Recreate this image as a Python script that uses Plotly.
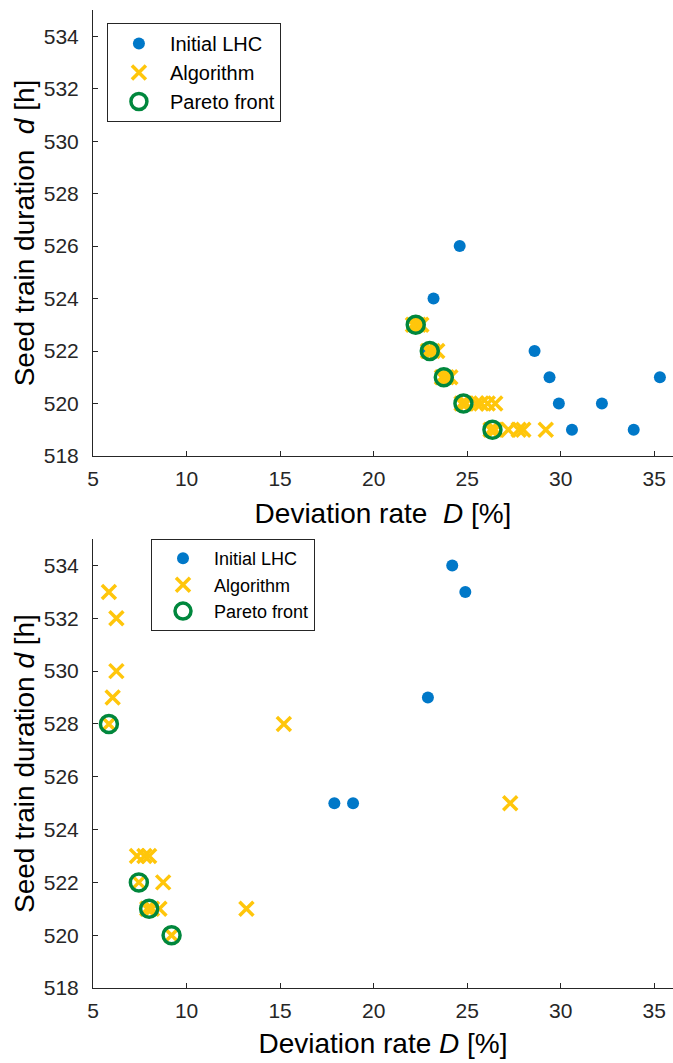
import plotly.graph_objects as go

# ---- upper panel: seed train duration vs deviation rate ----
lhc_D_top = [24.6, 23.2, 28.6, 29.4, 35.3, 29.9, 32.2, 30.6, 33.9, 22.8]
lhc_d_top = [526, 524, 522, 521, 521, 520, 520, 519, 519, 522]

alg_D_top = [22.1, 22.25, 22.4, 22.55,
             22.9, 23.0, 23.15, 23.4,
             23.65, 23.75, 23.9, 24.1,
             24.7, 24.8, 24.95, 25.5, 25.75, 26.1, 26.5,
             26.25, 26.35, 26.5, 27.2, 27.75, 28.0, 29.2]
alg_d_top = [523, 523, 523, 523,
             522, 522, 522, 522,
             521, 521, 521, 521,
             520, 520, 520, 520, 520, 520, 520,
             519, 519, 519, 519, 519, 519, 519]

par_D_top = [22.25, 23.0, 23.75, 24.8, 26.35]
par_d_top = [523, 522, 521, 520, 519]

# ---- lower panel ----
lhc_D_bot = [24.2, 24.9, 22.9, 17.9, 18.9]
lhc_d_bot = [534, 533, 529, 525, 525]

alg_D_bot = [5.85, 6.25, 6.25, 6.05, 5.85, 15.2, 27.3,
             7.35, 7.75, 8.0, 7.45, 8.75,
             7.9, 8.0, 8.15, 8.55, 13.2, 9.2]
alg_d_bot = [533, 532, 530, 529, 528, 528, 525,
             523, 523, 523, 522, 522,
             521, 521, 521, 521, 521, 520]

par_D_bot = [5.85, 7.45, 8.0, 9.2]
par_d_bot = [528, 522, 521, 520]

x_ticks = [5, 10, 15, 20, 25, 30, 35]
y_ticks = [518, 520, 522, 524, 526, 528, 530, 532, 534]

BLUE = "#0078C8"
YELLOW = "#FFC60B"
GREEN = "#00873D"
AXC = "#262626"
FONT = "Liberation Sans, Arial, sans-serif"

fig = go.Figure()


def add_panel(xa, ya, legend, lD, ld, aD, ad, pD, pd):
    fig.add_trace(go.Scatter(
        x=lD, y=ld, mode="markers", name="Initial LHC",
        marker=dict(color=BLUE, size=12, symbol="circle"),
        xaxis=xa, yaxis=ya, legend=legend))
    fig.add_trace(go.Scatter(
        x=aD, y=ad, mode="markers", name="Algorithm",
        marker=dict(color=YELLOW, size=14, symbol="x-thin",
                    line=dict(color=YELLOW, width=3.5)),
        xaxis=xa, yaxis=ya, legend=legend))
    fig.add_trace(go.Scatter(
        x=pD, y=pd, mode="markers", name="Pareto front",
        marker=dict(color=GREEN, size=17, symbol="circle-open",
                    line=dict(color=GREEN, width=3.5)),
        xaxis=xa, yaxis=ya, legend=legend))


add_panel("x", "y", "legend", lhc_D_top, lhc_d_top, alg_D_top, alg_d_top,
          par_D_top, par_d_top)
add_panel("x2", "y2", "legend2", lhc_D_bot, lhc_d_bot, alg_D_bot, alg_d_bot,
          par_D_bot, par_d_bot)

axis_common = dict(
    showline=True, linecolor=AXC, linewidth=1, mirror=False,
    ticks="inside", ticklen=5, tickcolor=AXC, tickwidth=1,
    showgrid=False, zeroline=False,
    tickfont=dict(family=FONT, size=21, color=AXC),
)

xaxis_cfg = dict(axis_common, range=[5, 36], tickvals=x_ticks,
                 ticklabelstandoff=4)
yaxis_cfg = dict(axis_common, range=[518, 535], tickvals=y_ticks,
                 ticklabelstandoff=9)

title_font = dict(family=FONT, size=28, color="#000000")

fig.update_layout(
    width=673, height=1063,
    margin=dict(l=93, r=0, t=10, b=75),
    paper_bgcolor="white", plot_bgcolor="white",
    xaxis=dict(xaxis_cfg, domain=[0, 1], anchor="y",
               title=dict(text="Deviation rate  <i>D</i> [%]",
                          font=title_font, standoff=14)),
    yaxis=dict(yaxis_cfg, domain=[0.544, 1], anchor="x",
               title=dict(text="Seed train duration  <i>d</i> [h]",
                          font=title_font, standoff=0)),
    xaxis2=dict(xaxis_cfg, domain=[0, 1], anchor="y2",
                title=dict(text="Deviation rate <i>D</i> [%]",
                           font=title_font, standoff=12)),
    yaxis2=dict(yaxis_cfg, domain=[0, 0.459], anchor="x2",
                title=dict(text="Seed train duration <i>d</i> [h]",
                           font=title_font, standoff=0)),
    legend=dict(x=0.024, y=0.9867, xanchor="left", yanchor="top",
                bgcolor="white", bordercolor=AXC, borderwidth=1,
                itemwidth=52,
                font=dict(family=FONT, size=20, color="#000000")),
    legend2=dict(x=0.1, y=0.459, xanchor="left", yanchor="top",
                 bgcolor="white", bordercolor=AXC, borderwidth=1,
                 itemwidth=52,
                 font=dict(family=FONT, size=18, color="#000000")),
    showlegend=True,
)

fig.write_html("out.html")
